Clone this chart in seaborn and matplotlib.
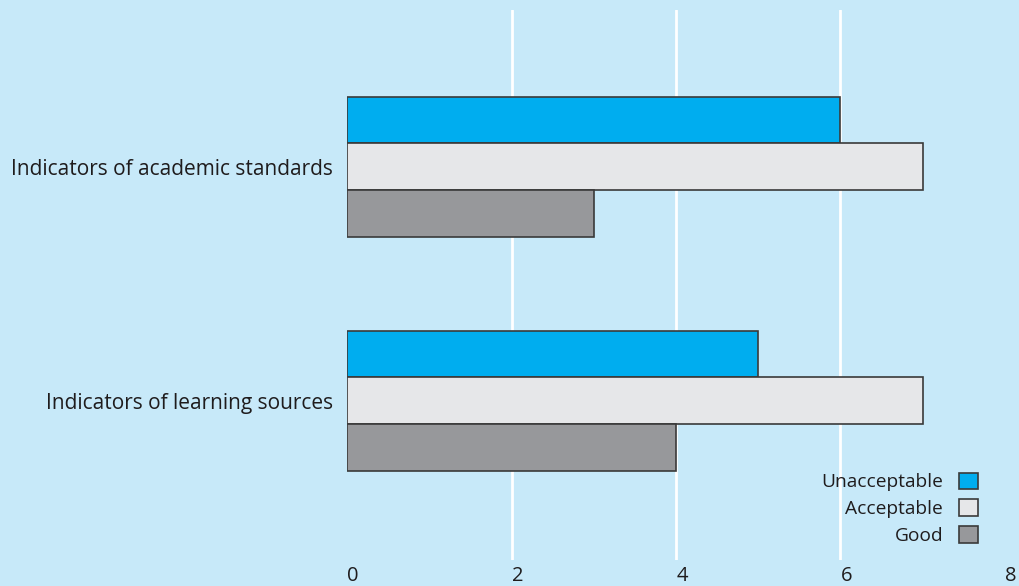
import matplotlib
matplotlib.use('Agg')
import matplotlib.pyplot as plt
import matplotlib.transforms as mtransforms
import seaborn as sns
import pandas as pd

# 数据
categories = ['Indicators of academic standards', 'Indicators of learning sources']
ratings = ['Unacceptable', 'Acceptable', 'Good']
unacceptable = [6, 5]
acceptable = [7, 7]
good = [3, 4]
x_ticks = [0, 2, 4, 6, 8]

bg = '#c7e9f9'
colors = ['#00adef', '#e6e7e9', '#97989b']
text_color = '#1f1c1d'

sns.set_theme(style='white')
plt.rcParams['font.family'] = ['Open Sans', 'DejaVu Sans']

rows = []
for i, cat in enumerate(categories):
    for name, vals in zip(ratings, [unacceptable, acceptable, good]):
        rows.append({'category': cat, 'rating': name, 'value': vals[i]})
df = pd.DataFrame(rows)

fig = plt.figure(figsize=(10.2, 5.86), dpi=100, facecolor=bg)
ax = fig.add_axes([347 / 1020, 26 / 586, 658 / 1020, 550 / 586])
ax.set_facecolor(bg)

sns.barplot(data=df, y='category', x='value', hue='rating', hue_order=ratings,
            palette=colors, orient='h', width=0.6, edgecolor='#3a3a3a',
            linewidth=1.2, saturation=1, ax=ax, zorder=2)

# 白色网格线
for t in x_ticks[1:-1]:
    ax.axvline(t, color='white', lw=2, zorder=0)

ax.set_xlim(0, 8)
ax.set_ylim(1.68, -0.67)
ax.set_xticks(x_ticks)
ax.set_xticklabels([str(t) for t in x_ticks])
ax.set_xlabel('')
ax.set_ylabel('')
for s in ax.spines.values():
    s.set_visible(False)
ax.tick_params(axis='y', length=0, labelsize=15, colors=text_color, pad=10)
ax.tick_params(axis='x', length=0, labelsize=14.5, colors=text_color, pad=4)

# x轴标签稍向右偏
offset = mtransforms.ScaledTranslation(6 / 100, 0, fig.dpi_scale_trans)
for lab in ax.get_xticklabels():
    lab.set_transform(lab.get_transform() + offset)

leg = ax.legend(loc='lower right', bbox_to_anchor=(0.970, 0.013), frameon=False,
                markerfirst=False, fontsize=13.8, handlelength=0.95,
                handleheight=0.95, labelspacing=0.42, handletextpad=0.85,
                borderaxespad=0)
for t in leg.get_texts():
    t.set_color(text_color)

fig.savefig('out.png', dpi=100, facecolor=bg)
